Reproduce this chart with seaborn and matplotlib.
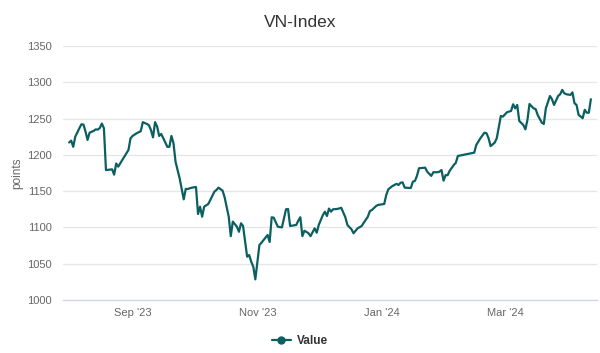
import matplotlib
matplotlib.use("Agg")
from matplotlib import pyplot as plt
from matplotlib.lines import Line2D
import pandas as pd
import seaborn as sns

# VN-Index closes
dates = [
    "2023-08-01", "2023-08-02", "2023-08-03", "2023-08-04", "2023-08-06",
    "2023-08-07", "2023-08-08", "2023-08-09", "2023-08-10", "2023-08-11",
    "2023-08-13", "2023-08-14", "2023-08-15", "2023-08-16", "2023-08-17",
    "2023-08-18", "2023-08-19", "2023-08-21", "2023-08-22", "2023-08-23",
    "2023-08-24", "2023-08-25", "2023-08-27", "2023-08-29", "2023-08-30",
    "2023-08-31", "2023-09-01", "2023-09-03", "2023-09-05", "2023-09-06",
    "2023-09-08", "2023-09-09", "2023-09-10", "2023-09-11", "2023-09-12",
    "2023-09-13", "2023-09-14", "2023-09-15", "2023-09-16", "2023-09-18",
    "2023-09-19", "2023-09-20", "2023-09-21", "2023-09-22", "2023-09-24",
    "2023-09-26", "2023-09-27", "2023-09-28", "2023-09-30", "2023-10-02",
    "2023-10-03", "2023-10-04", "2023-10-05", "2023-10-06", "2023-10-08",
    "2023-10-09", "2023-10-11", "2023-10-12", "2023-10-13", "2023-10-15",
    "2023-10-16", "2023-10-18", "2023-10-19", "2023-10-20", "2023-10-22",
    "2023-10-23", "2023-10-24", "2023-10-25", "2023-10-27", "2023-10-28",
    "2023-10-29", "2023-10-30", "2023-10-31", "2023-11-02", "2023-11-03",
    "2023-11-05", "2023-11-06", "2023-11-07", "2023-11-08", "2023-11-09",
    "2023-11-11", "2023-11-13", "2023-11-14", "2023-11-15", "2023-11-16",
    "2023-11-17", "2023-11-20", "2023-11-21", "2023-11-22", "2023-11-23",
    "2023-11-24", "2023-11-26", "2023-11-27", "2023-11-29", "2023-11-30",
    "2023-12-01", "2023-12-03", "2023-12-04", "2023-12-05", "2023-12-06",
    "2023-12-07", "2023-12-08", "2023-12-10", "2023-12-12", "2023-12-14",
    "2023-12-15", "2023-12-17", "2023-12-18", "2023-12-20", "2023-12-22",
    "2023-12-23", "2023-12-25", "2023-12-26", "2023-12-27", "2023-12-29",
    "2023-12-30", "2024-01-02", "2024-01-03", "2024-01-04", "2024-01-06",
    "2024-01-08", "2024-01-09", "2024-01-10", "2024-01-11", "2024-01-12",
    "2024-01-15", "2024-01-16", "2024-01-17", "2024-01-18", "2024-01-19",
    "2024-01-22", "2024-01-23", "2024-01-25", "2024-01-26", "2024-01-28",
    "2024-01-29", "2024-01-30", "2024-01-31", "2024-02-01", "2024-02-02",
    "2024-02-03", "2024-02-05", "2024-02-06", "2024-02-07", "2024-02-11",
    "2024-02-13", "2024-02-15", "2024-02-16", "2024-02-18", "2024-02-20",
    "2024-02-21", "2024-02-22", "2024-02-23", "2024-02-25", "2024-02-26",
    "2024-02-28", "2024-02-29", "2024-03-02", "2024-03-04", "2024-03-05",
    "2024-03-06", "2024-03-07", "2024-03-08", "2024-03-10", "2024-03-11",
    "2024-03-12", "2024-03-13", "2024-03-15", "2024-03-16", "2024-03-17",
    "2024-03-19", "2024-03-20", "2024-03-21", "2024-03-23", "2024-03-24",
    "2024-03-25", "2024-03-27", "2024-03-28", "2024-03-29", "2024-03-30",
    "2024-03-31", "2024-04-02", "2024-04-03", "2024-04-04", "2024-04-05",
    "2024-04-06", "2024-04-07", "2024-04-08", "2024-04-09", "2024-04-10",
    "2024-04-11", "2024-04-12",
]
values = [
    1217, 1219.5, 1211, 1225, 1236.6,
    1242, 1241.6, 1232, 1220.5, 1230.5,
    1233, 1235, 1234.7, 1237, 1243,
    1236.6, 1179, 1179.6, 1180, 1172.7,
    1188, 1183.7, 1193, 1202, 1206.7,
    1222.8, 1226, 1229.7, 1232.5, 1245,
    1242.5, 1240.7, 1234, 1224, 1245,
    1239, 1226, 1228.7, 1223, 1211,
    1211, 1226, 1216, 1190.6, 1167.7,
    1138.7, 1153, 1153, 1154.8, 1155.7,
    1118.5, 1128.6, 1114.8, 1128.6, 1132.3,
    1137.8, 1149.3, 1151.6, 1154.8, 1150.6,
    1141.5, 1114.8, 1088, 1108, 1101,
    1094, 1105.7, 1102, 1059.7, 1062,
    1052.8, 1046, 1028.5, 1075.8, 1079,
    1086, 1089.6, 1080, 1114, 1113.4,
    1101, 1100, 1112.6, 1125, 1125.4,
    1102, 1103.4, 1109.3, 1114, 1088,
    1095.5, 1092, 1088, 1098.8, 1092.7,
    1103.4, 1117, 1121.7, 1115.7, 1126,
    1121.7, 1125, 1125.4, 1127, 1114,
    1103.4, 1097.4, 1092, 1098.8, 1102,
    1106.5, 1114.8, 1122.6, 1124, 1129.5,
    1131, 1132.3, 1144.7, 1152.5, 1157,
    1160, 1158.5, 1161.6, 1162, 1154.8,
    1154.3, 1163, 1164, 1171, 1181.5,
    1182.3, 1176.8, 1171, 1176, 1176,
    1176.8, 1179, 1164.4, 1172, 1172,
    1178, 1186, 1189, 1198.4, 1200.7,
    1202, 1203, 1213.6, 1222.8, 1230.5,
    1229.7, 1222.8, 1212, 1216.8, 1222.8,
    1253.5, 1252.6, 1258.6, 1260.4, 1269.6,
    1264, 1268.7, 1246.7, 1241, 1235,
    1248, 1270, 1264, 1263, 1255,
    1244.3, 1242.5, 1264, 1281, 1276.6,
    1268.7, 1281, 1283.4, 1289.4, 1284.8,
    1283.4, 1282.5, 1286, 1271, 1268.7,
    1255, 1252.6, 1250.4, 1262, 1258,
    1258, 1276.6,
]
tick_dates = ["2023-09-01", "2023-11-01", "2024-01-01", "2024-03-01"]
tick_labels = ["Sep '23", "Nov '23", "Jan '24", "Mar '24"]
y_ticks = [1000, 1050, 1100, 1150, 1200, 1250, 1300, 1350]

LINE_COLOR = "#0b5f61"

sns.set_style("white")
plt.rcParams["font.family"] = ["Liberation Sans", "DejaVu Sans"]

df = pd.DataFrame({"date": pd.to_datetime(dates), "value": values})

fig = plt.figure(figsize=(6.0, 3.53), dpi=100)
ax = fig.add_axes([0.105, 0.150, 0.890, 0.720])

sns.lineplot(data=df, x="date", y="value", ax=ax, color=LINE_COLOR, lw=1.6)

ax.set_xlim(pd.Timestamp("2023-07-29"), pd.Timestamp("2024-04-15"))
ax.set_ylim(1000, 1350)
ax.set_yticks(y_ticks)
ax.set_xticks(pd.to_datetime(tick_dates))
ax.set_xticklabels(tick_labels)

ax.grid(axis="y", color="#e6e6e6", lw=0.9)
ax.grid(axis="x", visible=False)
for side in ["top", "right", "left"]:
    ax.spines[side].set_visible(False)
ax.spines["bottom"].set_color("#ccd6eb")
ax.spines["bottom"].set_linewidth(0.9)
ax.tick_params(axis="x", labelsize=8, length=5, width=0.9,
               direction="out", pad=1, color="#ccd6eb", labelcolor="#666666")
ax.tick_params(axis="y", labelcolor="#666666", labelsize=8, length=0, pad=8)
ax.set_xlabel("")
ax.set_ylabel("points", color="#666666", fontsize=8.5)
ax.yaxis.set_label_coords(-0.075, 0.5)

fig.suptitle("VN-Index", x=0.5, y=0.958, fontsize=12.5, color="#333333")

handle = Line2D([], [], color=LINE_COLOR, lw=1.6, marker="o", markersize=5)
leg = fig.legend([handle], ["Value"], loc="center", bbox_to_anchor=(0.5, 0.035),
                 frameon=False, handlelength=1.6, handletextpad=0.5,
                 prop={"weight": "bold", "size": 8.5})
for t in leg.get_texts():
    t.set_color("#333333")

fig.savefig("out.png", dpi=100)
